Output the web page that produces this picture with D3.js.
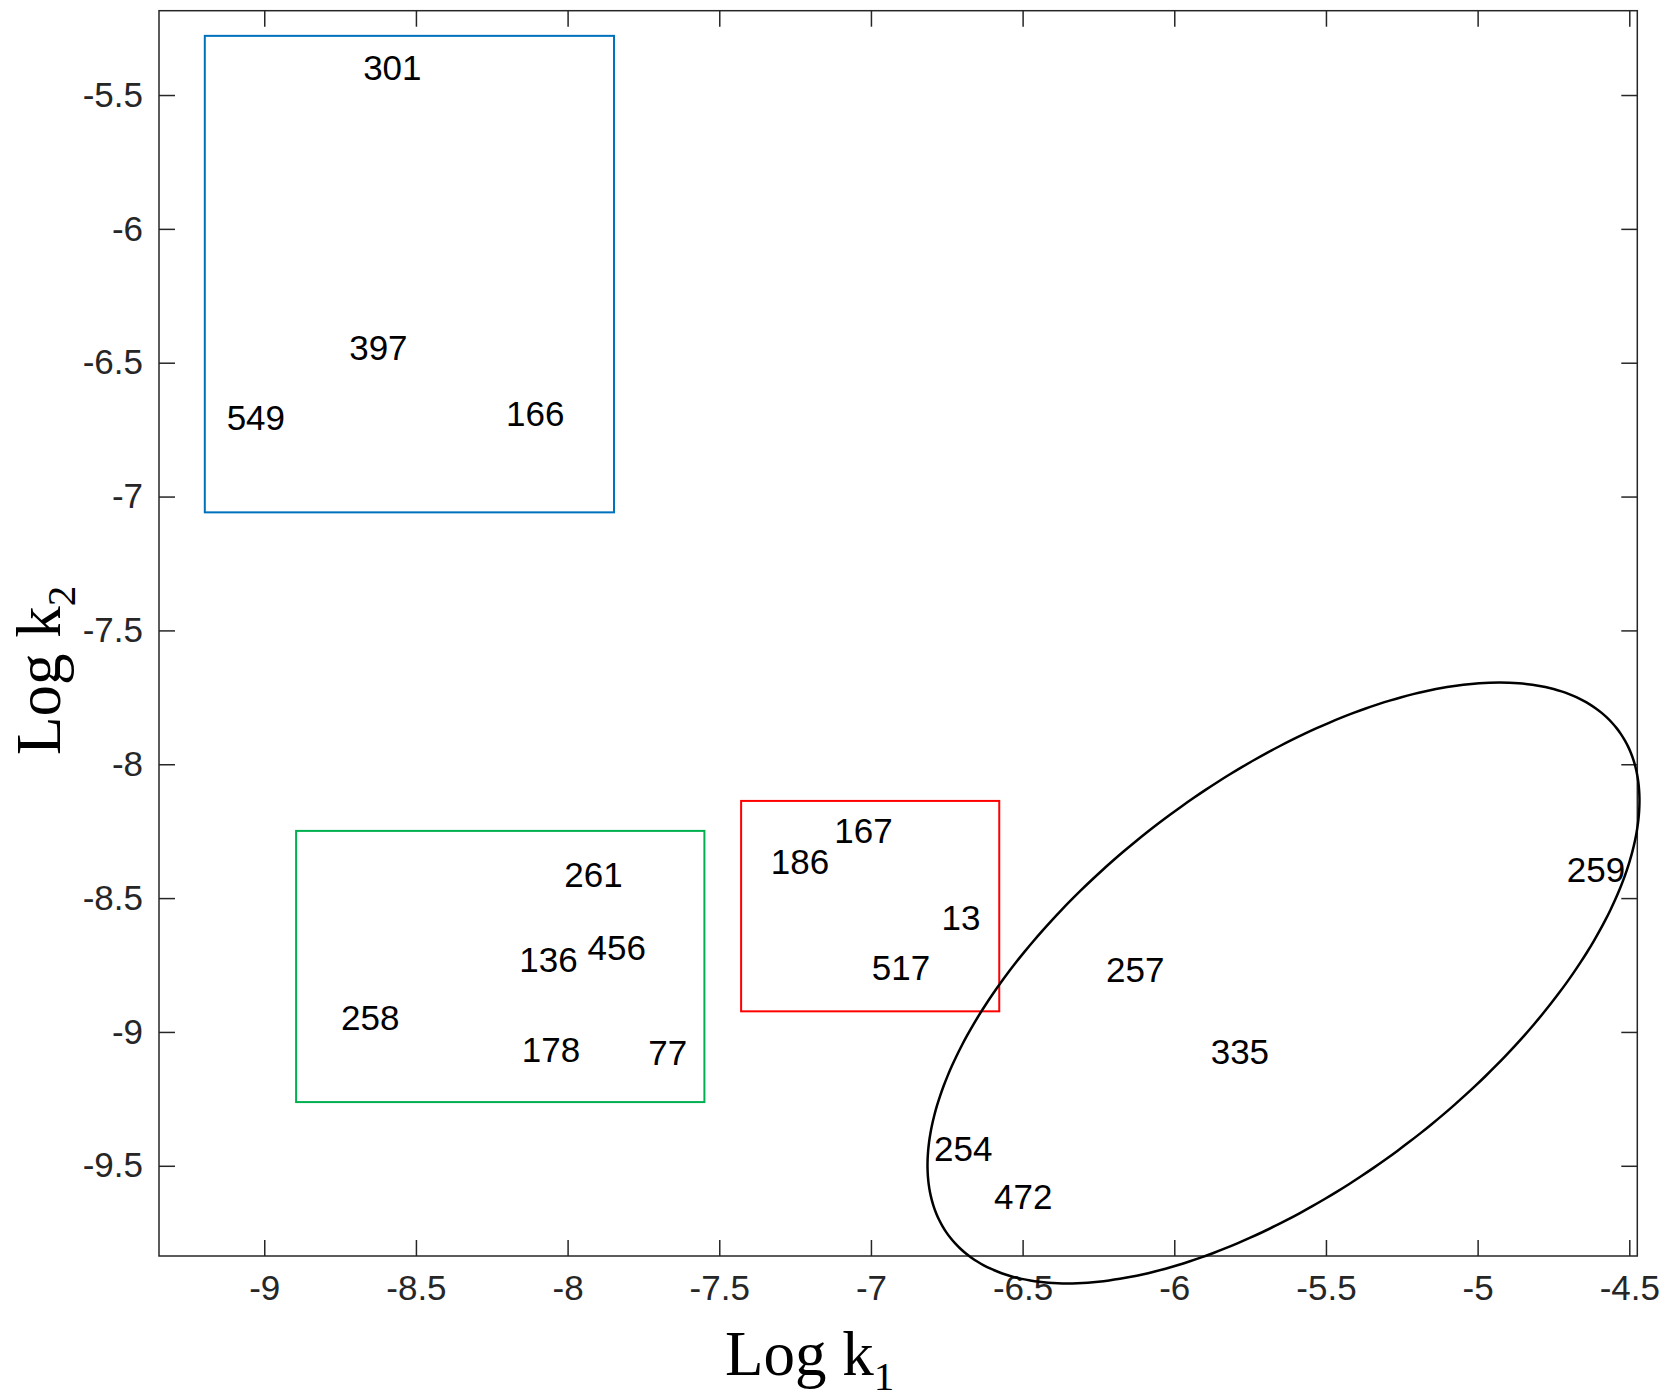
<!DOCTYPE html>
<html>
<head>
<meta charset="utf-8">
<script src="https://cdn.jsdelivr.net/npm/d3@7"></script>
<style>
  body { margin: 0; background: #fff; }
  svg { display: block; }
</style>
</head>
<body>
<div id="chart"></div>
<script>
// sample labels and their (log k1, log k2) positions
var sampleIds = ["301", "397", "549", "166",
                 "261", "136", "456", "258", "178", "77",
                 "167", "186", "13", "517",
                 "259", "257", "335", "254", "472"];
var logK1 = [-8.674, -8.720, -9.124, -8.203,
             -8.011, -8.159, -7.934, -8.747, -8.151, -7.734,
             -7.121, -7.330, -6.767, -6.997,
             -4.706, -6.225, -5.880, -6.792, -6.594];
var logK2 = [-5.397, -6.442, -6.706, -6.691,
             -8.413, -8.731, -8.686, -8.945, -9.064, -9.076,
             -8.246, -8.364, -8.573, -8.758,
             -8.394, -8.766, -9.072, -9.437, -9.614];

// group boxes (log k1 from/to, log k2 from/to)
var boxColors = ["#0072bd", "#00b050", "#ff0000"];
var boxK1From = [-9.196, -8.895, -7.428];
var boxK1To   = [-7.847, -7.549, -6.577];
var boxK2From = [-7.059, -9.262, -8.923];
var boxK2To   = [-5.279, -8.249, -8.137];

// ellipse round the last group: centre, semi axes, tilt (degrees, data space)
var ellCentre = [-5.640, -8.817];
var ellAxes = [1.456, 0.719];
var ellTilt = 42.9;

var xTicks = [-9, -8.5, -8, -7.5, -7, -6.5, -6, -5.5, -5, -4.5];
var yTicks = [-5.5, -6, -6.5, -7, -7.5, -8, -8.5, -9, -9.5];

var width = 1665, height = 1395;
var plotLeft = 159, plotRight = 1637.3, plotTop = 10.7, plotBottom = 1256;

var svg = d3.select("#chart").append("svg")
    .attr("width", width)
    .attr("height", height);

var x = d3.scaleLinear().domain([-9.347, -4.4736]).range([plotLeft, plotRight]);
var y = d3.scaleLinear().domain([-9.837, -5.185]).range([plotBottom, plotTop]);

var axisColor = "#262626";
var fmt = d => String(d);

// axes, ticks pointing inward like the original
var gx = svg.append("g").attr("transform", `translate(0,${plotBottom})`)
    .call(d3.axisBottom(x).tickValues(xTicks).tickFormat(fmt).tickSize(-16).tickPadding(19));
var gy = svg.append("g").attr("transform", `translate(${plotLeft},0)`)
    .call(d3.axisLeft(y).tickValues(yTicks).tickFormat(fmt).tickSize(-16).tickPadding(16));
var gt = svg.append("g").attr("transform", `translate(0,${plotTop})`)
    .call(d3.axisTop(x).tickValues(xTicks).tickFormat("").tickSize(-16));
var gr = svg.append("g").attr("transform", `translate(${plotRight},0)`)
    .call(d3.axisRight(y).tickValues(yTicks).tickFormat("").tickSize(-16));

[gx, gy, gt, gr].forEach(g => {
  g.select(".domain").remove();
  g.selectAll("line").attr("stroke", axisColor).attr("stroke-width", 1.5);
  g.selectAll("text")
    .attr("fill", axisColor)
    .style("font-family", "'Liberation Sans', Arial, sans-serif")
    .style("font-size", "35px");
});

svg.append("rect")
    .attr("x", plotLeft).attr("y", plotTop)
    .attr("width", plotRight - plotLeft).attr("height", plotBottom - plotTop)
    .attr("fill", "none")
    .attr("stroke", axisColor)
    .attr("stroke-width", 1.5);

// group boxes
svg.selectAll("rect.grp")
  .data(boxColors)
  .enter().append("rect")
    .attr("class", "grp")
    .attr("x", (c, i) => x(boxK1From[i]))
    .attr("y", (c, i) => y(boxK2To[i]))
    .attr("width", (c, i) => x(boxK1To[i]) - x(boxK1From[i]))
    .attr("height", (c, i) => y(boxK2From[i]) - y(boxK2To[i]))
    .attr("fill", "none")
    .attr("stroke", c => c)
    .attr("stroke-width", 2);

// ellipse
var th = ellTilt * Math.PI / 180;
var ellPts = d3.range(0, 360, 2).map(function(deg) {
  var t = deg * Math.PI / 180;
  var u = ellAxes[0] * Math.cos(t), v = ellAxes[1] * Math.sin(t);
  return [ellCentre[0] + u * Math.cos(th) - v * Math.sin(th),
          ellCentre[1] + u * Math.sin(th) + v * Math.cos(th)];
});
svg.append("path")
    .datum(ellPts)
    .attr("d", d3.line().x(d => x(d[0])).y(d => y(d[1])).curve(d3.curveCardinalClosed))
    .attr("fill", "none")
    .attr("stroke", "#000")
    .attr("stroke-width", 2.5);

// sample labels (left aligned, vertically centred)
svg.selectAll("text.lbl")
  .data(sampleIds)
  .enter().append("text")
    .attr("class", "lbl")
    .attr("x", (d, i) => x(logK1[i]))
    .attr("y", (d, i) => y(logK2[i]))
    .attr("dy", "0.358em")
    .style("font-family", "'Liberation Sans', Arial, sans-serif")
    .style("font-size", "35px")
    .attr("fill", "#000")
    .text(d => d);

// axis titles
var xt = svg.append("text")
    .attr("x", 725).attr("y", 1375)
    .style("font-family", "'Liberation Serif', 'Times New Roman', serif")
    .style("font-size", "63px")
    .attr("fill", "#000");
xt.append("tspan").text("Log k");
xt.append("tspan").attr("dy", 15).style("font-size", "41px").text("1");

var yt = svg.append("text")
    .attr("transform", "translate(60,755) rotate(-90)")
    .style("font-family", "'Liberation Serif', 'Times New Roman', serif")
    .style("font-size", "63px")
    .attr("fill", "#000");
yt.append("tspan").text("Log k");
yt.append("tspan").attr("dy", 15).style("font-size", "41px").text("2");
</script>
</body>
</html>
